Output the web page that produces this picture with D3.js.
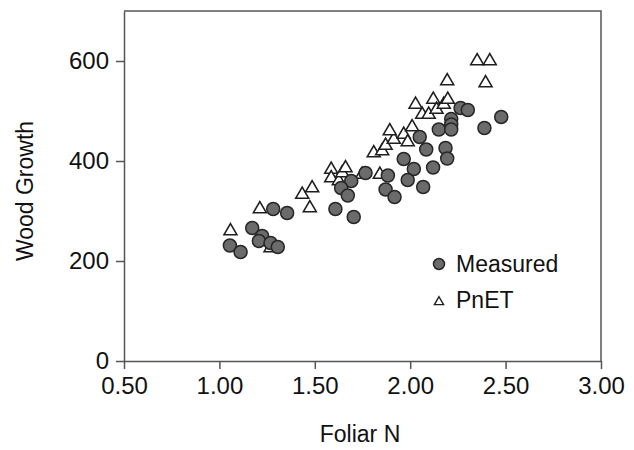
<!DOCTYPE html>
<html>
<head>
<meta charset="utf-8">
<script src="https://cdn.jsdelivr.net/npm/d3@7"></script>
<style>
  body { margin: 0; background: #fff; }
  text { font-family: "Liberation Sans", Arial, sans-serif; fill: #111; }
</style>
</head>
<body>
<div id="graph"></div>
<script>
// Measured wood growth vs foliar N
var measuredN = [1.055, 1.111, 1.172, 1.224, 1.207, 1.268, 1.306, 1.282, 1.355, 1.608,
  1.704, 1.691, 1.638, 1.673, 1.766, 1.883, 1.871, 1.918, 1.966, 2.019,
  1.987, 2.068, 2.120, 2.050, 2.084, 2.185, 2.194, 2.150, 2.215, 2.215,
  2.215, 2.264, 2.302, 2.389, 2.477];
var measuredGrowth = [231, 218, 266, 250, 240, 236, 228, 304, 296, 304,
  288, 360, 346, 331, 376, 371, 343, 328, 404, 384,
  362, 348, 387, 448, 423, 426, 405, 463, 484, 473,
  463, 506, 502, 466, 488];

// PnET model predictions
var pnetN = [1.058, 1.212, 1.268, 1.434, 1.474, 1.486, 1.586, 1.586, 1.626, 1.644,
  1.661, 1.748, 1.841, 1.809, 1.853, 1.871, 1.914, 1.893, 1.966, 1.987,
  2.010, 2.028, 2.063, 2.097, 2.121, 2.138, 2.176, 2.197, 2.194, 2.351,
  2.417, 2.395];
var pnetGrowth = [260, 304, 226, 333, 306, 346, 383, 366, 360, 376,
  386, 373, 373, 416, 420, 431, 443, 460, 453, 438,
  468, 513, 493, 493, 523, 503, 513, 523, 560, 600,
  600, 556];

var xTicks = [0.5, 1.0, 1.5, 2.0, 2.5, 3.0];
var yTicks = [0, 200, 400, 600];
var legendLabels = ["Measured", "PnET"];

var width = 634, height = 450;
var margin = {top: 11, right: 33, bottom: 89, left: 124};

var svg = d3.select("#graph").append("svg")
  .attr("width", width)
  .attr("height", height);

var x = d3.scaleLinear().domain([0.5, 3.0]).range([margin.left, width - margin.right]);
var y = d3.scaleLinear().domain([0, 700]).range([height - margin.bottom, margin.top]);

// frame on top and right
svg.append("path")
  .attr("d", "M" + x(0.5) + "," + y(700) + "H" + x(3.0) + "V" + y(0))
  .attr("fill", "none")
  .attr("stroke", "#555")
  .attr("stroke-width", 1.5);

var xAxis = svg.append("g")
  .attr("transform", "translate(0," + y(0) + ")")
  .call(d3.axisBottom(x).tickValues(xTicks).tickFormat(d3.format(".2f")).tickSize(8).tickPadding(8).tickSizeOuter(0));

var yAxis = svg.append("g")
  .attr("transform", "translate(" + x(0.5) + ",0)")
  .call(d3.axisLeft(y).tickValues(yTicks).tickSize(8).tickPadding(7).tickSizeOuter(0));

[xAxis, yAxis].forEach(function(g){
  g.selectAll("path, line").attr("stroke", "#555").attr("stroke-width", 1.5);
  g.selectAll("text").attr("font-size", 24).attr("font-family", null).attr("fill", "#111");
});

svg.append("text")
  .attr("x", 360).attr("y", 442)
  .attr("text-anchor", "middle")
  .attr("font-size", 23)
  .text("Foliar N");

svg.append("text")
  .attr("transform", "translate(33,191) rotate(-90)")
  .attr("text-anchor", "middle")
  .attr("font-size", 23)
  .text("Wood Growth");

var tri = d3.symbol().type(d3.symbolTriangle).size(72);

svg.append("g").selectAll("path")
  .data(pnetN)
  .enter().append("path")
  .attr("d", tri)
  .attr("transform", function(d, i){
    return "translate(" + x(d) + "," + y(pnetGrowth[i]) + ")";
  })
  .attr("fill", "#fff")
  .attr("stroke", "#1e1e1e")
  .attr("stroke-width", 1.6);

svg.append("g").selectAll("circle")
  .data(measuredN)
  .enter().append("circle")
  .attr("cx", function(d){ return x(d); })
  .attr("cy", function(d, i){ return y(measuredGrowth[i]); })
  .attr("r", 6.5)
  .attr("fill", "#6b6b6b")
  .attr("stroke", "#262626")
  .attr("stroke-width", 1.5);

// legend
var legend = svg.append("g");
legend.append("circle")
  .attr("cx", 439).attr("cy", 264).attr("r", 5.5)
  .attr("fill", "#6b6b6b").attr("stroke", "#262626").attr("stroke-width", 1.5);
legend.append("path")
  .attr("d", d3.symbol().type(d3.symbolTriangle).size(36))
  .attr("transform", "translate(439,302)")
  .attr("fill", "#fff").attr("stroke", "#1e1e1e").attr("stroke-width", 1.4);
legend.selectAll("text")
  .data(legendLabels)
  .enter().append("text")
  .attr("x", 456)
  .attr("y", function(d, i){ return 272 + i * 36; })
  .attr("font-size", 23)
  .text(function(d){ return d; });
</script>
</body>
</html>
